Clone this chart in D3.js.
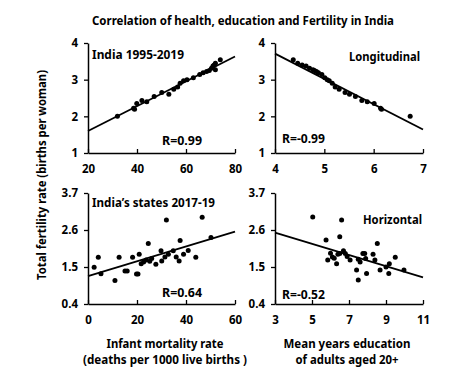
<!DOCTYPE html>
<html>
<head>
<meta charset="utf-8">
<script src="https://cdn.jsdelivr.net/npm/d3@7"></script>
<style>
  body { margin: 0; background: #fff; }
  svg text { font-family: "Noto Sans", "DejaVu Sans", sans-serif; font-weight: bold; fill: #000; }
</style>
</head>
<body>
<svg width="468" height="380"></svg>
<script>
// India 1995-2019 (time series)
const imrIndia = [74, 72, 71.5, 71, 70.4, 72, 69.5, 68.4, 67, 65.6, 63, 60.4, 59, 57.6, 56.6, 55, 50.1, 53, 47, 42, 44, 39.9, 38.6, 39, 32];
const tfrIndia = [3.54, 3.45, 3.40, 3.37, 3.31, 3.27, 3.25, 3.22, 3.19, 3.14, 3.05, 3.0, 2.97, 2.9, 2.8, 2.74, 2.65, 2.6, 2.54, 2.43, 2.4, 2.35, 2.22, 2.19, 2.0];
const eduIndia = [4.37, 4.46, 4.55, 4.63, 4.7, 4.77, 4.8, 4.84, 4.88, 4.95, 5.01, 5.06, 5.1, 5.16, 5.22, 5.3, 5.42, 5.51, 5.63, 5.76, 5.87, 6.01, 6.14, 6.16, 6.74];

// India's states 2017-19
const imrStates = [2.5, 4.2, 5.3, 11, 12.7, 15.1, 16, 18.2, 19.8, 20.4, 20.9, 21.7, 22.7, 23.7, 24.6, 25.2, 26, 27.7, 29.8, 30.1, 31.4, 32, 32.8, 34.8, 36, 37.2, 37.6, 39, 40.9, 44, 46.6, 50.2];
const tfrStates = [1.49, 1.79, 1.3, 1.1, 1.79, 1.38, 1.38, 1.79, 1.29, 1.29, 1.88, 1.6, 1.65, 1.71, 2.2, 1.67, 1.75, 1.58, 1.98, 1.68, 1.8, 2.9, 1.88, 1.98, 1.8, 1.68, 2.29, 1.88, 1.99, 1.79, 2.98, 2.38];
const eduStates = [5.04, 6.6, 5.76, 6.5, 8.53, 5.85, 6.0, 6.1, 6.2, 6.33, 6.4, 6.5, 6.7, 6.8, 6.9, 7.06, 7.41, 7.5, 7.5, 7.6, 7.75, 7.85, 7.9, 7.95, 8.3, 8.4, 8.68, 9.0, 9.15, 9.18, 9.5, 9.97];
const tfrStatesEdu = [2.99, 2.9, 2.3, 2.4, 2.2, 1.71, 1.91, 1.8, 1.76, 1.6, 1.88, 1.9, 1.98, 1.9, 1.81, 1.71, 1.41, 1.11, 1.73, 1.65, 1.9, 1.9, 1.75, 1.31, 1.88, 1.71, 1.41, 1.5, 1.31, 1.6, 1.79, 1.41];

// fitted lines, read at the ends of each x axis
const fitTL = [1.6, 3.63];
const fitTR = [3.71, 1.64];
const fitBL = [1.23, 2.55];
const fitBR = [2.52, 1.19];

const xTicksTL = [20, 40, 60, 80];
const xTicksTR = [4, 5, 6, 7];
const xTicksBL = [0, 20, 40, 60];
const xTicksBR = [3, 5, 7, 9, 11];
const yTicksTop = [1, 2, 3, 4];
const yTicksBot = [0.4, 1.5, 2.6, 3.7];

const panels = [
  {xs: imrIndia, ys: tfrIndia, fit: fitTL, xt: xTicksTL, yt: yTicksTop, xr: [88, 235], yr: [153, 43],
   label: "India 1995-2019", lx: 92, ly: 59, lw: 92, r: "R=0.99", rx: 162, ry: 145, rw: 40},
  {xs: eduIndia, ys: tfrIndia, fit: fitTR, xt: xTicksTR, yt: yTicksTop, xr: [275, 423], yr: [153, 43],
   label: "Longitudinal", lx: 349, ly: 61, lw: 71, r: "R=-0.99", rx: 282, ry: 143, rw: 43},
  {xs: imrStates, ys: tfrStates, fit: fitBL, xt: xTicksBL, yt: yTicksBot, xr: [88, 235], yr: [304, 193],
   label: "India\u2019s states 2017-19", lx: 92, ly: 207, lw: 123, r: "R=0.64", rx: 162, ry: 297, rw: 40},
  {xs: eduStates, ys: tfrStatesEdu, fit: fitBR, xt: xTicksBR, yt: yTicksBot, xr: [275, 423], yr: [304, 193],
   label: "Horizontal", lx: 363, ly: 224, lw: 59, r: "R=-0.52", rx: 282, ry: 299, rw: 43}
];

const svg = d3.select("svg");

function fitText(sel, w) {
  sel.attr("textLength", w).attr("lengthAdjust", "spacingAndGlyphs");
}

panels.forEach(p => {
  const x = d3.scaleLinear().domain(d3.extent(p.xt)).range(p.xr);
  const y = d3.scaleLinear().domain(d3.extent(p.yt)).range(p.yr);
  const g = svg.append("g");

  // x axis, ticks pointing up
  const xa = g.append("g")
    .attr("transform", `translate(0,${p.yr[0]})`)
    .call(d3.axisBottom(x).tickValues(p.xt).tickSize(-4).tickSizeOuter(0).tickPadding(12).tickFormat(d3.format("")));
  // y axis, ticks pointing left
  const ya = g.append("g")
    .attr("transform", `translate(${p.xr[0]},0)`)
    .call(d3.axisLeft(y).tickValues(p.yt).tickSize(4).tickSizeOuter(0).tickPadding(6).tickFormat(d3.format("")));
  [xa, ya].forEach(a => {
    a.select(".domain").attr("stroke", "#000").attr("stroke-width", 1.5);
    a.selectAll(".tick line").attr("stroke", "#000").attr("stroke-width", 1.3);
    a.selectAll(".tick text").attr("font-size", 11.5).attr("fill", "#000");
    a.attr("font-family", null);
  });

  // regression line
  g.append("line")
    .attr("x1", x(p.xt[0])).attr("x2", x(p.xt[p.xt.length - 1]))
    .attr("y1", y(p.fit[0])).attr("y2", y(p.fit[1]))
    .attr("stroke", "#000").attr("stroke-width", 1.8);

  // points
  g.selectAll("circle").data(p.xs.map((v, i) => [v, p.ys[i]]))
    .enter().append("circle")
    .attr("cx", d => x(d[0]))
    .attr("cy", d => y(d[1]))
    .attr("r", 2.5)
    .attr("fill", "#000");

  g.append("text").attr("x", p.lx).attr("y", p.ly).attr("font-size", 12).text(p.label).call(fitText, p.lw);
  g.append("text").attr("x", p.rx).attr("y", p.ry).attr("font-size", 12).text(p.r).call(fitText, p.rw);
});

// title
svg.append("text").attr("x", 92).attr("y", 25).attr("font-size", 12.5)
  .text("Correlation of health, education and Fertility in India").call(fitText, 302);

// y title
svg.append("text").attr("transform", "translate(46,175) rotate(-90)")
  .attr("text-anchor", "middle").attr("font-size", 12.5)
  .text("Total fertility rate (births per woman)").call(fitText, 210);

// x titles
[["Infant mortality rate", 165, 348, 117], ["(deaths per 1000 live births )", 165, 364, 164],
 ["Mean years education", 347, 348, 127], ["of adults aged 20+", 347, 364, 103]].forEach(t => {
  svg.append("text").attr("x", t[1] - t[3] / 2).attr("y", t[2]).attr("font-size", 12.5)
    .text(t[0]).call(fitText, t[3]);
});
</script>
</body>
</html>
